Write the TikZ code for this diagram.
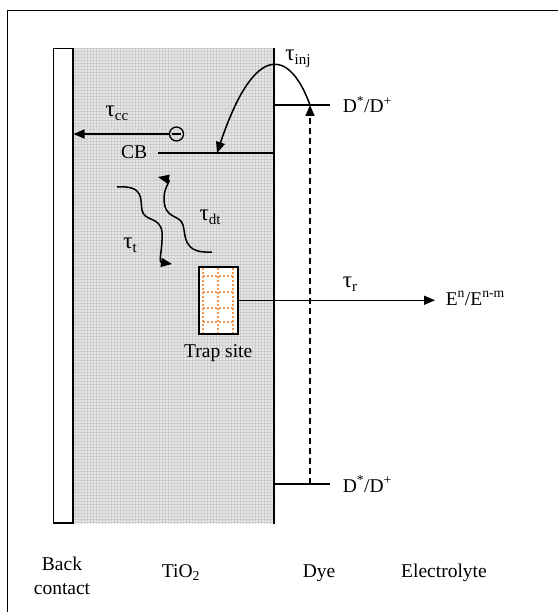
\documentclass[tikz,border=0pt]{standalone}
\usepackage{fontspec}
\setmainfont{Liberation Serif}
\usetikzlibrary{arrows.meta,positioning}
\definecolor{ink}{HTML}{000000}
\definecolor{oxide}{HTML}{E8E8E8}
\definecolor{oxgrid}{HTML}{CDCDCD}
\definecolor{trapdot}{HTML}{F5964C}
\newcommand{\tlab}[1]{{\fontsize{23}{23}\selectfont τ}\raisebox{-0.45ex}{\fontsize{15}{15}\selectfont #1}}

\begin{document}
\begin{tikzpicture}[x=1pt,y=-1pt,line width=1.5pt,draw=ink,font=\fontsize{19.5}{24}\selectfont,
  tip/.style={-{Triangle[length=11pt,width=9pt]}},
  trapdots/.style={trapdot,line width=2pt,dash pattern=on 2pt off 2pt},
  lbl/.style={inner sep=0pt}]
  \useasboundingbox (0,0) rectangle (558,612);
  % frame
  \draw[line width=1.8pt] (558,10.5) -- (7.5,10.5) -- (7.5,612);
  % oxide layer and back contact
  \node[fill=oxide, minimum width=199, minimum height=474, inner sep=0, anchor=north west] (tio2) at (73.5,48) {};
  \draw[oxgrid, line width=0.4pt, step=3pt] (tio2.south west) grid (tio2.north east);
  \draw (tio2.north east) -- (tio2.south east);
  \node[draw, fill=white, minimum width=19.5, minimum height=474, inner sep=0, anchor=north east] (contact) at (tio2.north west) {};
  % dye levels
  \coordinate (dyeup) at (310,105);
  \coordinate (dyelow) at (310,484);
  \coordinate (levend) at (330,0);
  \draw (tio2.east |- dyeup) -- (levend |- dyeup);
  \draw (tio2.east |- dyelow) -- (levend |- dyelow);
  \node[lbl, anchor=base west] (upper) at (342,113) {D\textsuperscript{*}/D\textsuperscript{+}};
  \node[lbl, anchor=base west] (lower) at (342,492) {D\textsuperscript{*}/D\textsuperscript{+}};
  \draw[tip, dash pattern=on 6pt off 4pt] (dyelow) -- (dyeup);
  % conduction band
  \node[lbl, anchor=base east] (cb) at (148,159) {CB};
  \coordinate (cbstart) at (158,153);
  \coordinate (cbhit) at (217,153);
  \draw (cbstart) -- (tio2.east |- cbstart);
  \draw[tip] (dyeup) .. controls (290,50) and (255,40) .. (cbhit);
  \node[lbl] (tinj) at (298,59) {\tlab{inj}};
  % electron to back contact
  \node[draw, circle, minimum size=14, inner sep=0, line width=1.3pt] (elec) at (176.5,134) {};
  \draw[line width=1.3pt] ([xshift=-4.5]elec.center) -- ([xshift=4.5]elec.center);
  \draw[tip] (elec.west) -- (contact.east |- elec.west);
  \node[lbl] (tcc) at (117,113) {\tlab{cc}};
  % transport and detrapping
  \coordinate (tstart) at (117,187);
  \coordinate (dtstart) at (212,252);
  \draw[tip] (tstart) .. controls (145,185) and (140,200) .. (142,210) .. controls (144,222) and (160,216) .. (162,232) .. controls (163,248) and (158,262) .. (172,264);
  \draw[tip] (dtstart) .. controls (182,254) and (186,235) .. (183,225) .. controls (180,214) and (165,220) .. (164,200) .. controls (163,188) and (172,180) .. (158,177);
  \node[lbl] (tt) at (130,245) {\tlab{t}};
  \node[lbl] (tdt) at (210,217) {\tlab{dt}};
  % trap site
  \node[draw, fill=white, minimum width=39, minimum height=67, inner sep=0, anchor=north west] (trap) at (198,266) {};
  \foreach \x in {5,20,35}
    \draw[trapdots] ([xshift=\x,yshift=-2]trap.north west) -- ([xshift=\x,yshift=2]trap.south west);
  \foreach \y in {10,26,42,56}
    \draw[trapdots] ([xshift=5,yshift=-\y]trap.north west) -- ([xshift=35,yshift=-\y]trap.north west);
  \node[lbl, below=9pt of trap] (traplbl) {Trap site};
  % recombination
  \coordinate (redox) at (435,0);
  \draw[tip] (trap.east) -- (trap.east -| redox);
  \node[lbl] (tr) at (350,284) {\tlab{r}};
  \node[lbl, anchor=base west] (elec2) at (445,305) {E\textsuperscript{n}/E\textsuperscript{n-m}};
  % layer names
  \node[lbl, align=center, anchor=north] (backlbl) at (62,556) {Back\\contact};
  \node[lbl, anchor=base] (tio2lbl) at (181,577) {TiO\textsubscript{2}};
  \node[lbl, anchor=base] (dyelbl) at (319,577) {Dye};
  \node[lbl, anchor=base] (elyte) at (444,577) {Electrolyte};
\end{tikzpicture}
\end{document}
